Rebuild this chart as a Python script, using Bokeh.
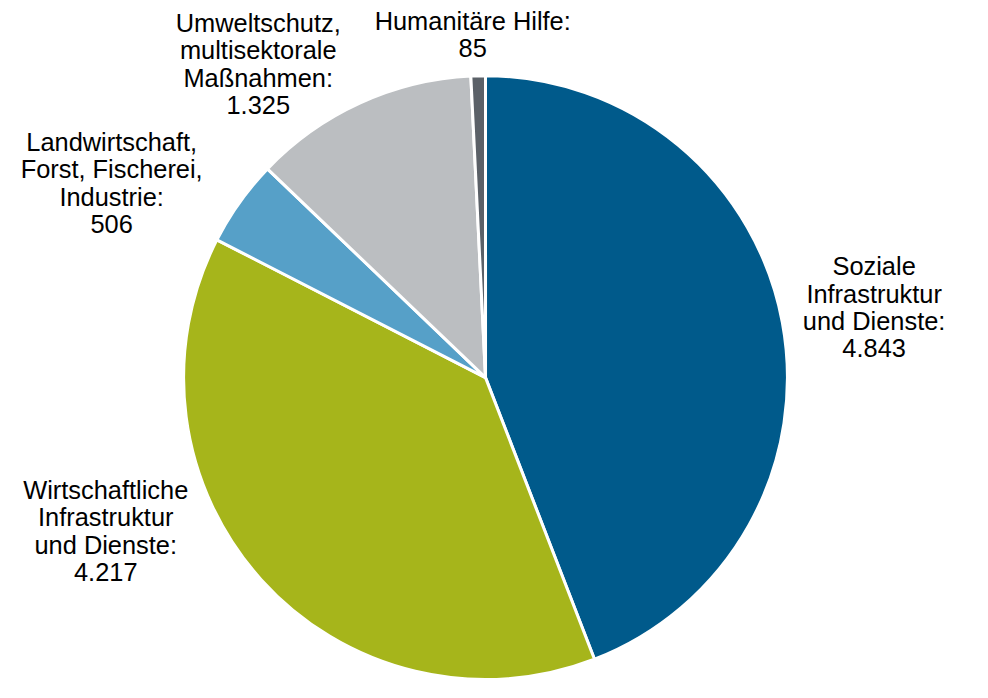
import math
from bokeh.plotting import figure
from bokeh.models import Range1d, ColumnDataSource
from bokeh.core.properties import value
from bokeh.embed import file_html
from bokeh.resources import INLINE

# ---- data ----
categories = [
    "Soziale\nInfrastruktur\nund Dienste",
    "Wirtschaftliche\nInfrastruktur\nund Dienste",
    "Landwirtschaft,\nForst, Fischerei,\nIndustrie",
    "Umweltschutz,\nmultisektorale\nMaßnahmen",
    "Humanitäre Hilfe",
]
amounts = [4843, 4217, 506, 1325, 85]
colors = ["#005A8B", "#A6B51B", "#56A0C8", "#BBBEC1", "#5B6168"]

# ---- layout ----
W, H = 972, 682           # fits the 988x698 window with its 8px margin
SX, SY = W / 988.0, H / 698.0
S = min(SX, SY)
# label block centres (in a 988x698 design grid, measured from top-left)
lx = [888, 107, 113, 262, 480]
ly = [314, 543, 187, 65, 35]
label_x = [v * SX for v in lx]
label_y = [H - v * SY for v in ly]
CX, CY, R = 493 * SX, H - 386 * SY, 309 * S

total = float(sum(amounts))
starts, ends = [], []
acc = 0.0
for a in amounts:
    starts.append(math.pi / 2 - 2 * math.pi * acc / total)
    acc += a
    ends.append(math.pi / 2 - 2 * math.pi * acc / total)

def fmt(v):
    return f"{v:,}".replace(",", ".")

labels = [f"{c}:\n{fmt(v)}" for c, v in zip(categories, amounts)]

src = ColumnDataSource(dict(x=[CX] * len(amounts), y=[CY] * len(amounts),
                            start=starts, end=ends, color=colors))

p = figure(width=W, height=H, output_backend="svg", toolbar_location=None,
           x_range=Range1d(0, W), y_range=Range1d(0, H), min_border=0)
p.axis.visible = False
p.grid.visible = False
p.outline_line_color = None
p.background_fill_color = "white"
p.border_fill_color = "white"

p.wedge(x="x", y="y", radius=R, radius_units="screen",
        start_angle="start", end_angle="end",
        direction="clock", fill_color="color", line_color="white",
        line_width=3, source=src)

tsrc = ColumnDataSource(dict(x=label_x, y=label_y, text=labels))
p.text(x="x", y="y", text="text", source=tsrc, text_align="center",
       text_baseline="middle", text_font=value("Liberation Sans"),
       text_font_size=f"{26 * S:.1f}px", text_color="#000000",
       text_line_height=0.98)

open("out.html", "w").write(file_html(p, INLINE))
